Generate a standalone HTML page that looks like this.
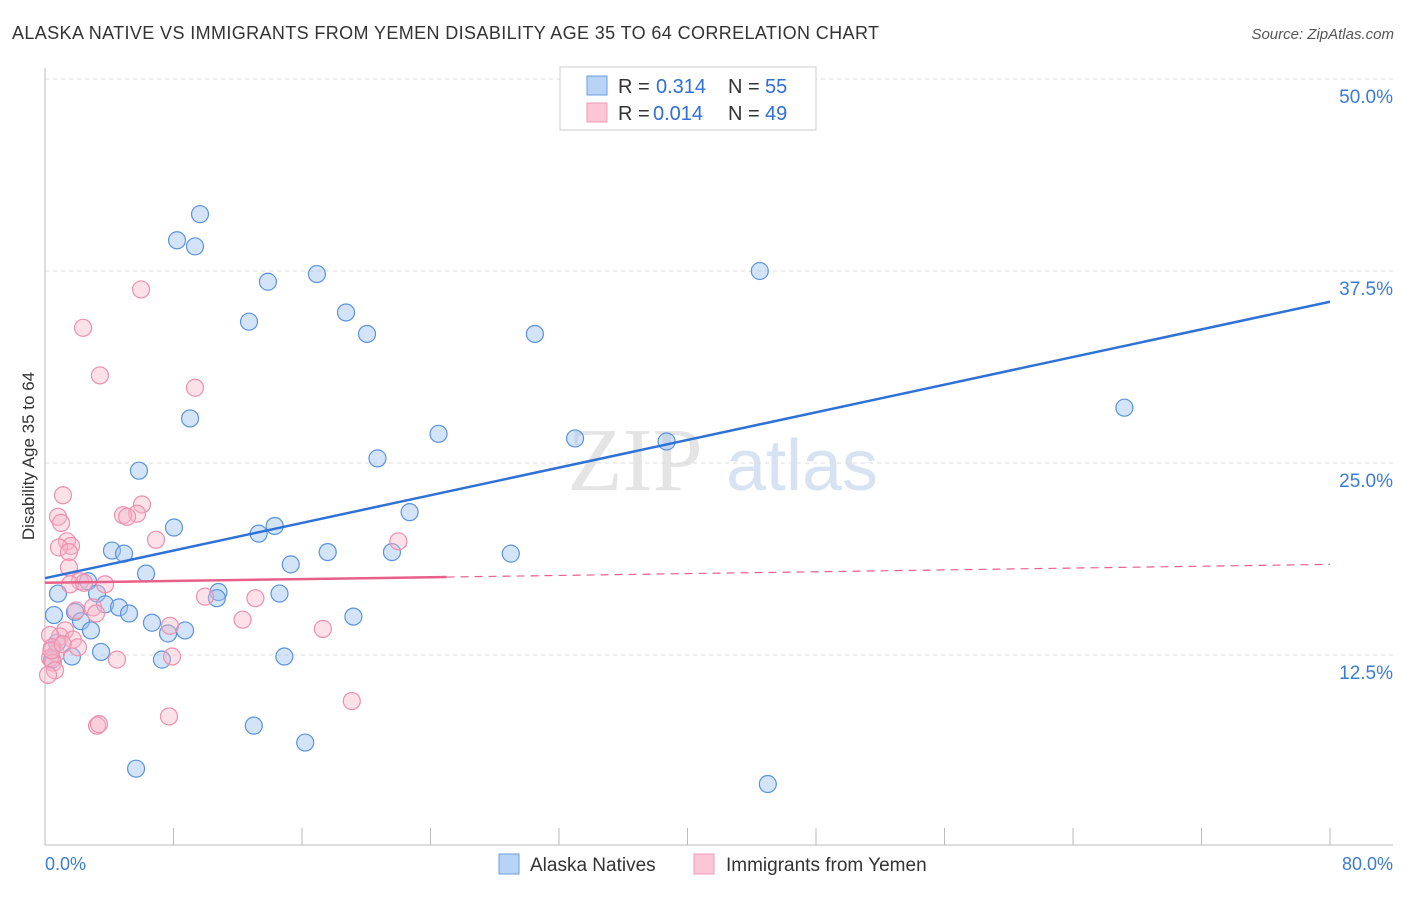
<!DOCTYPE html>
<html><head><meta charset="utf-8"><style>
body{margin:0;background:#fff;font-family:"Liberation Sans",sans-serif}
</style></head><body>
<svg id="c" width="1406" height="892" xmlns="http://www.w3.org/2000/svg" style="font-family:'Liberation Sans',sans-serif">
<text x="12" y="39" font-size="18" fill="#333" textLength="867">ALASKA NATIVE VS IMMIGRANTS FROM YEMEN DISABILITY AGE 35 TO 64 CORRELATION CHART</text>
<text x="1394" y="39" font-size="15" fill="#555" text-anchor="end" font-style="italic">Source: ZipAtlas.com</text>
<text x="635" y="490" font-size="90" fill="#e4e4e4" font-family="Liberation Serif" text-anchor="middle">ZIP</text>
<text x="802" y="490" font-size="72" fill="#d7e3f3" text-anchor="middle">atlas</text>
<g id="grid"></g><g id="pts"></g><g id="lines"></g>
<text transform="translate(34,456) rotate(-90)" font-size="17" fill="#333" text-anchor="middle">Disability Age 35 to 64</text>
<text x="45" y="870" font-size="18" fill="#3a7bd5">0.0%</text>
<text x="1393" y="870" font-size="18" fill="#3a7bd5" text-anchor="end">80.0%</text>
<g>
<rect x="560" y="67" width="256" height="63" fill="#fff" stroke="#ccc"/>
<rect x="587" y="76" width="20" height="19" fill="#b8d3f5" stroke="#6a9de0"/>
<rect x="587" y="103" width="20" height="19" fill="#fbc6d6" stroke="#f09ab5"/>
<text x="618" y="93" font-size="20" fill="#333">R =</text>
<text x="656" y="93" font-size="20" fill="#2f6fd6">0.314</text>
<text x="728" y="93" font-size="20" fill="#333">N =</text>
<text x="765" y="93" font-size="20" fill="#2f6fd6">55</text>
<text x="618" y="120" font-size="20" fill="#333">R =</text>
<text x="653" y="120" font-size="20" fill="#2f6fd6">0.014</text>
<text x="728" y="120" font-size="20" fill="#333">N =</text>
<text x="765" y="120" font-size="20" fill="#2f6fd6">49</text>
</g>
<g>
<rect x="499" y="854" width="20" height="20" fill="#b8d3f5" stroke="#6a9de0"/>
<text x="530" y="871" font-size="19" fill="#333">Alaska Natives</text>
<rect x="694" y="854" width="20" height="20" fill="#fbc6d6" stroke="#f09ab5"/>
<text x="726" y="871" font-size="19" fill="#333">Immigrants from Yemen</text>
</g>
</svg>
<script>
const yTicks=[12.5,25,37.5,50];
const xTicks=[0,8,16,24,32,40,48,56,64,72,80];
const blueX=[9.65,8.22,9.34,13.88,16.93,12.7,18.74,20.05,30.5,44.5,67.2,9.03,24.5,33.0,38.7,20.7,5.85,22.7,8.03,14.3,13.3,4.17,4.92,17.6,21.6,29.0,15.3,6.29,2.68,0.81,3.24,10.8,14.6,10.7,3.74,4.61,5.23,1.87,0.56,19.2,2.24,6.66,2.86,7.66,8.72,0.75,3.49,1.68,7.28,14.9,0.44,13.0,16.2,5.67,45.0];
const blueY=[41.2,39.5,39.1,36.8,37.3,34.2,34.8,33.4,33.4,37.5,28.6,27.9,26.9,26.6,26.4,25.3,24.5,21.8,20.8,20.9,20.4,19.3,19.1,19.2,19.2,19.1,18.4,17.8,17.3,16.5,16.5,16.6,16.5,16.2,15.8,15.6,15.2,15.3,15.1,15.0,14.7,14.6,14.1,13.9,14.1,13.3,12.7,12.4,12.2,12.4,12.2,7.9,6.8,5.1,4.1];
const pinkX=[5.98,2.37,3.42,9.34,1.12,6.04,0.81,5.73,4.86,5.11,1.0,6.91,22.0,1.37,1.62,0.87,1.49,1.49,2.18,3.74,1.56,2.43,9.96,13.1,2.99,1.93,3.18,12.3,7.78,17.3,1.25,0.93,0.31,1.74,0.44,2.05,0.68,0.31,7.91,4.48,0.5,0.62,0.19,7.72,19.1,3.24,3.36,0.4,1.1];
const pinkY=[36.3,33.8,30.7,29.9,22.9,22.3,21.5,21.7,21.6,21.5,21.1,20.0,19.9,19.9,19.6,19.5,19.2,18.2,17.3,17.1,17.1,17.2,16.3,16.2,15.6,15.4,15.2,14.8,14.4,14.2,14.1,13.7,13.8,13.5,13.0,13.0,12.6,12.3,12.4,12.2,12.0,11.5,11.2,8.5,9.5,7.9,8.0,12.8,13.2];
const blueTrend=[17.5,35.5];
const pinkTrend=[17.2,18.4];
const X=v=>45+v/80*1285, Y=v=>847-v/12.5*192;
const NS="http://www.w3.org/2000/svg";
function mk(t,a,p){const e=document.createElementNS(NS,t);for(const k in a)e.setAttribute(k,a[k]);document.getElementById(p).appendChild(e);return e;}
yTicks.forEach(v=>{
 const l=mk('line',{x1:45,x2:1393,y1:Y(v),y2:Y(v),stroke:'#ddd','stroke-dasharray':'4,4'},'grid');
 
 
 const t=mk('text',{x:1393,y:Y(v)+24,'font-size':19,fill:'#3a7bd5','text-anchor':'end'},'grid');
 t.textContent=v.toFixed(1)+'%';
 
 
});
xTicks.forEach(v=>{
 const l=mk('line',{x1:X(v),x2:X(v),y1:828,y2:845,stroke:'#bbb'},'grid');
 
 
});
let a=mk('line',{x1:45,x2:45,y1:68,y2:845,stroke:'#bbb'},'grid');


a=mk('line',{x1:45,x2:1393,y1:845,y2:845,stroke:'#bbb'},'grid');


blueX.forEach((v,i)=>{
 const c=mk('circle',{cx:X(v),cy:Y(blueY[i]),r:8.5,fill:'rgba(160,196,240,0.45)',stroke:'#5b93dc','stroke-width':1.2},'pts');
 
 
});
pinkX.forEach((v,i)=>{
 const c=mk('circle',{cx:X(v),cy:Y(pinkY[i]),r:8.5,fill:'rgba(248,180,200,0.4)',stroke:'#ee8fae','stroke-width':1.2},'pts');
 
 
});
let t=mk('line',{x1:X(0),y1:Y(blueTrend[0]),x2:X(80),y2:Y(blueTrend[1]),stroke:'#2f72d6','stroke-width':2.5},'lines');


const pAt=v=>pinkTrend[0]+(pinkTrend[1]-pinkTrend[0])*v/80;
t=mk('line',{x1:X(0),y1:Y(pAt(0)),x2:X(25),y2:Y(pAt(25)),stroke:'#e8608a','stroke-width':2.5},'lines');


t=mk('line',{x1:X(25),y1:Y(pAt(25)),x2:X(80),y2:Y(pAt(80)),stroke:'#e8608a','stroke-width':1.2,'stroke-dasharray':'8,6'},'lines');


</script>
</body></html>
